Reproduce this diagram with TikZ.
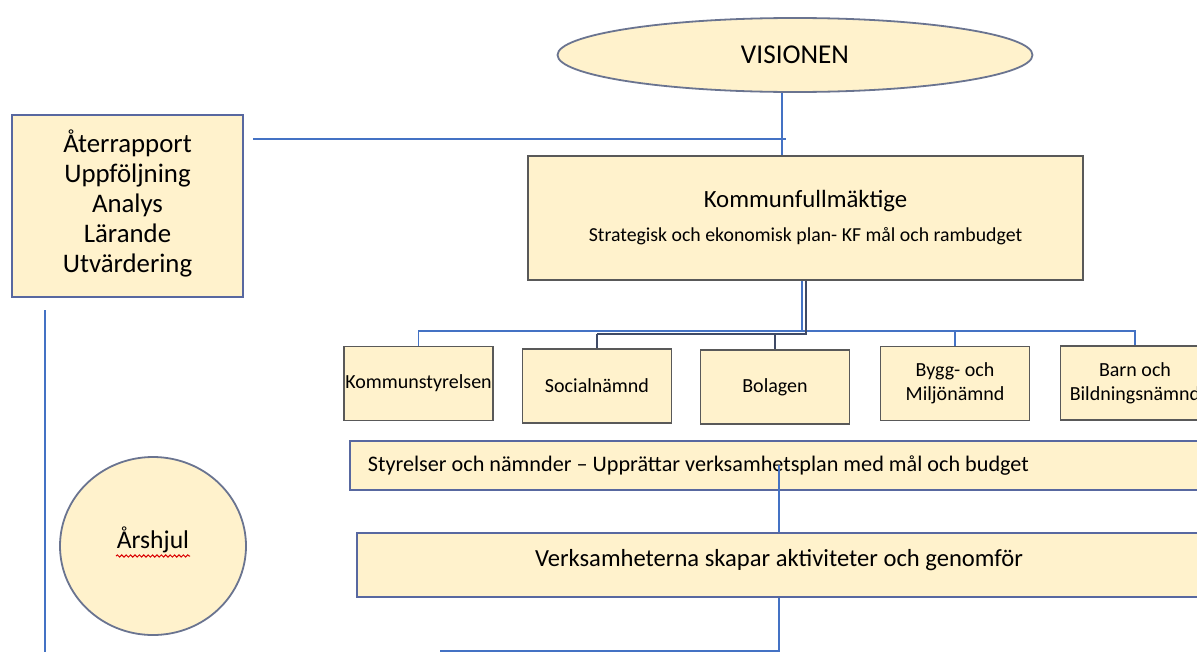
\documentclass[tikz,border=0pt]{standalone}
\usepackage{fontspec}
\setmainfont{Carlito}
\usetikzlibrary{shapes.geometric,decorations.pathmorphing,calc}
\definecolor{boxfill}{HTML}{FFF2CC}
\definecolor{boxline}{HTML}{595959}
\definecolor{bluebox}{HTML}{5868A0}
\definecolor{ellline}{HTML}{6A7490}
\definecolor{conblue}{HTML}{4472C4}
\definecolor{condark}{HTML}{3F4A66}
\tikzset{
  box/.style={draw=boxline, line width=0.9pt, fill=boxfill, rectangle, inner sep=0pt, align=center},
  bbox/.style={draw=bluebox, line width=0.9pt, fill=boxfill, rectangle, inner sep=0pt, align=center},
  child/.style={box, minimum width=74.5pt, minimum height=37pt, font=\fontsize{10}{12}\selectfont},
  blueline/.style={draw=conblue, line width=0.8pt},
  darkline/.style={draw=condark, line width=1.4pt},
}
\begin{document}
\begin{tikzpicture}[x=0.5pt,y=-0.5pt]
\clip (0,0) rectangle (1197,653);
\fill[white] (0,0) rectangle (1197,653);

% nodes
\node[ellipse, draw=ellline, line width=0.9pt, fill=boxfill, minimum width=237.5pt, minimum height=37pt, inner sep=0pt, font=\fontsize{13.6}{15}\selectfont] (vis) at (795,55) {VISIONEN};

\node[bbox, minimum width=115.5pt, minimum height=91pt, font=\fontsize{13.4}{15}\selectfont] (ra) at (127.5,206)
  {\begin{tabular}{@{}c@{}}Återrapport\\Uppföljning\\Analys\\Lärande\\Utvärdering\end{tabular}};

\node[box, minimum width=277.5pt, minimum height=62pt] (kf) at (805.5,218)
  {{\fontsize{12.4}{14}\selectfont Kommunfullmäktige}\\[5pt]{\fontsize{9.9}{11}\selectfont Strategisk och ekonomisk plan- KF mål och rambudget}};

\node[child] (ks) at (418.5,383.5) {Kommunstyrelsen};
\node[child] (soc) at (597,386) {Socialnämnd};
\node[child] (bol) at (775,387) {Bolagen};
\node[child] (bygg) at (955,383.5) {Bygg- och\\Miljönämnd};
\node[child] (barn) at (1135,383) {Barn och\\Bildningsnämnd};

\node[bbox, minimum width=430pt, minimum height=24.5pt, inner xsep=9pt, anchor=west, font=\fontsize{11.1}{12}\selectfont] (sty) at (349,465.5)
  {\makebox[412pt][l]{Styrelser och nämnder – Upprättar verksamhetsplan med mål och budget}};

\node[bbox, minimum width=422pt, minimum height=32pt, font=\fontsize{12.3}{14}\selectfont] (verk) at (779,565)
  {\raisebox{2.5pt}[\height][\depth]{Verksamheterna skapar aktiviteter och genomför}};

\node[ellipse, draw=ellline, line width=0.9pt, fill=boxfill, minimum width=93pt, minimum height=89pt, inner sep=0pt, font=\fontsize{12.8}{14}\selectfont] (ar) at (153,546) {\raisebox{3pt}[\height][\depth]{Årshjul}};
\draw[red!85!black, line width=0.5pt, decorate, decoration={snake, amplitude=0.55pt, segment length=2.2pt}] (116,556) -- (190,556);

% coordinates
\coordinate (xv) at (782,0);
\coordinate (hl1) at (253,139);
\coordinate (hl2) at (786,139);
\coordinate (lv1) at (45,310);
\coordinate (lv2) at (45,652);
\coordinate (xkf) at (806,0);
\coordinate (xkfb) at (802,0);
\coordinate (busd) at (0,334);
\coordinate (busb) at (0,331);
\coordinate (xst) at (779,465);
\coordinate (bot) at (779,651);
\coordinate (botl) at (440,651);

% connectors
\draw[blueline] (vis.south -| xv) -- (kf.north -| xv);
\draw[blueline] (hl1) -- (hl2);
\draw[blueline] (lv1) -- (lv2);

\draw[blueline] (kf.south -| xkfb) -- (busb -| xkfb);
\draw[blueline] (ks.north) -- (busb -| ks.north) -- (busb -| barn.north) -- (barn.north);
\draw[blueline] (busb -| bygg.north) -- (bygg.north);

\draw[darkline] (kf.south -| xkf) -- (busd -| xkf) -- (busd -| soc.north);
\draw[draw=condark, line width=0.9pt] (busd -| soc.north) -- (soc.north);
\draw[draw=condark, line width=0.9pt] (busd -| bol.north) -- (bol.north);

\draw[blueline] (xst) -- (verk.north -| xst);
\draw[blueline] (verk.south -| bot) -- (bot) -- (botl);
\end{tikzpicture}
\end{document}
